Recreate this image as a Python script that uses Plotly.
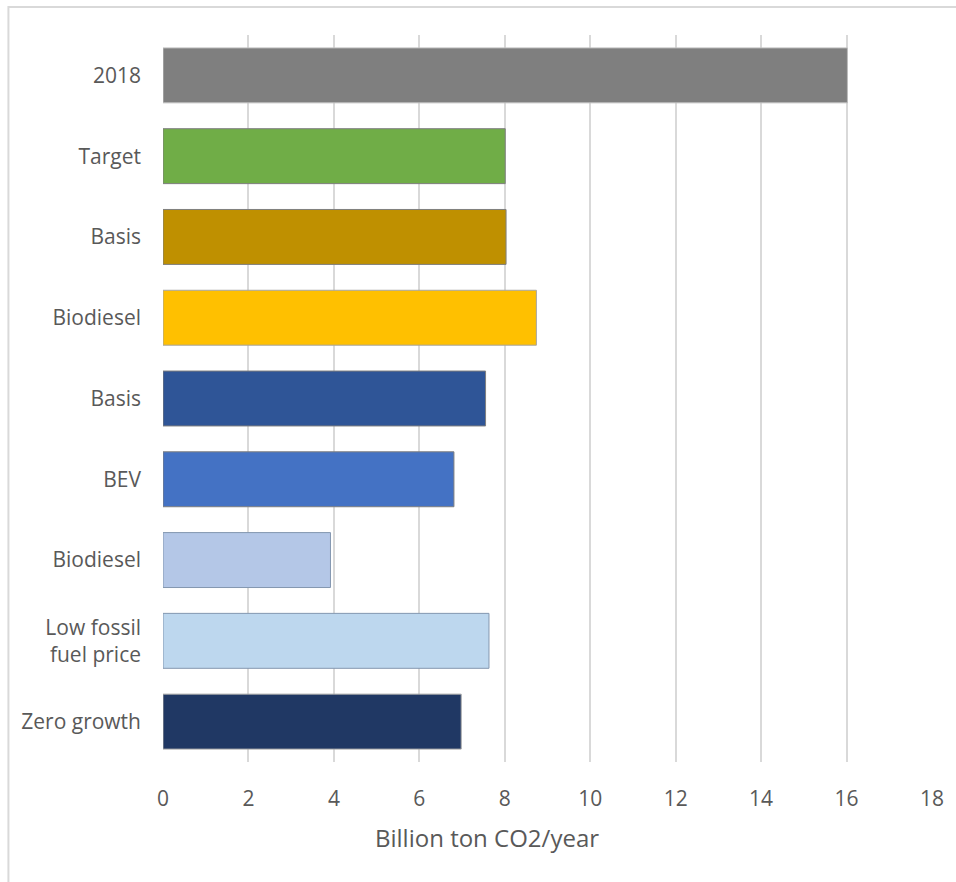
import plotly.graph_objects as go

# Scenario labels (top to bottom) and CO2 emissions in billion ton per year
labels = ["2018", "Target", "Basis", "Biodiesel", "Basis", "BEV",
          "Biodiesel", "Low fossil<br>fuel price", "Zero growth"]
values = [16.02, 8.01, 8.03, 8.74, 7.55, 6.81, 3.92, 7.63, 6.98]
colors = ["#7F7F7F", "#70AD47", "#BF9000", "#FFC000", "#2F5597",
          "#4472C4", "#B4C7E7", "#BDD7EE", "#203864"]
outline = ["#BFBFBF", "#7F7F7F", "#7F7F7F", "#A6A6A6", "#7F7F7F",
           "#7F7F7F", "#8497B0", "#8497B0", "#A6A6A6"]
x_ticks = [0, 2, 4, 6, 8, 10, 12, 14, 16, 18]

positions = list(range(len(labels)))
text_color = "#595959"
font_family = "Open Sans"

fig = go.Figure(
    go.Bar(
        x=values,
        y=positions,
        orientation="h",
        width=0.68,
        marker=dict(color=colors, line=dict(color=outline, width=1)),
        hoverinfo="x",
    )
)

fig.update_layout(
    width=956,
    height=882,
    margin=dict(l=163, r=17, t=35, b=120),
    paper_bgcolor="white",
    plot_bgcolor="white",
    showlegend=False,
    font=dict(family=font_family, size=21, color=text_color),
    xaxis=dict(
        range=[0, 18],
        tickvals=x_ticks,
        ticktext=[str(v) for v in x_ticks],
        showgrid=True,
        gridcolor="#D9D9D9",
        gridwidth=1.5,
        zeroline=False,
        showline=False,
        ticks="",
        ticklabelstandoff=22,
        tickfont=dict(size=21, color=text_color),
        fixedrange=True,
    ),
    yaxis=dict(
        range=[len(labels) - 0.5, -0.5],
        tickvals=positions,
        ticktext=labels,
        showgrid=False,
        zeroline=False,
        showline=False,
        ticks="",
        ticklabelstandoff=21,
        tickfont=dict(size=21, color=text_color),
        fixedrange=True,
    ),
    annotations=[
        dict(
            text="Billion ton CO2/year",
            xref="paper", yref="paper",
            x=0.4208, y=-0.104,
            xanchor="center", yanchor="middle",
            showarrow=False,
            font=dict(size=24, color=text_color, family=font_family),
        )
    ],
    shapes=[
        # light frame around the chart area
        dict(
            type="rect", xref="paper", yref="paper",
            x0=-0.201, x1=1.2, y0=-0.4, y1=1.0385,
            line=dict(color="#D9D9D9", width=2),
            fillcolor="rgba(0,0,0,0)",
            layer="below",
        )
    ],
)

fig.write_html("out.html")
